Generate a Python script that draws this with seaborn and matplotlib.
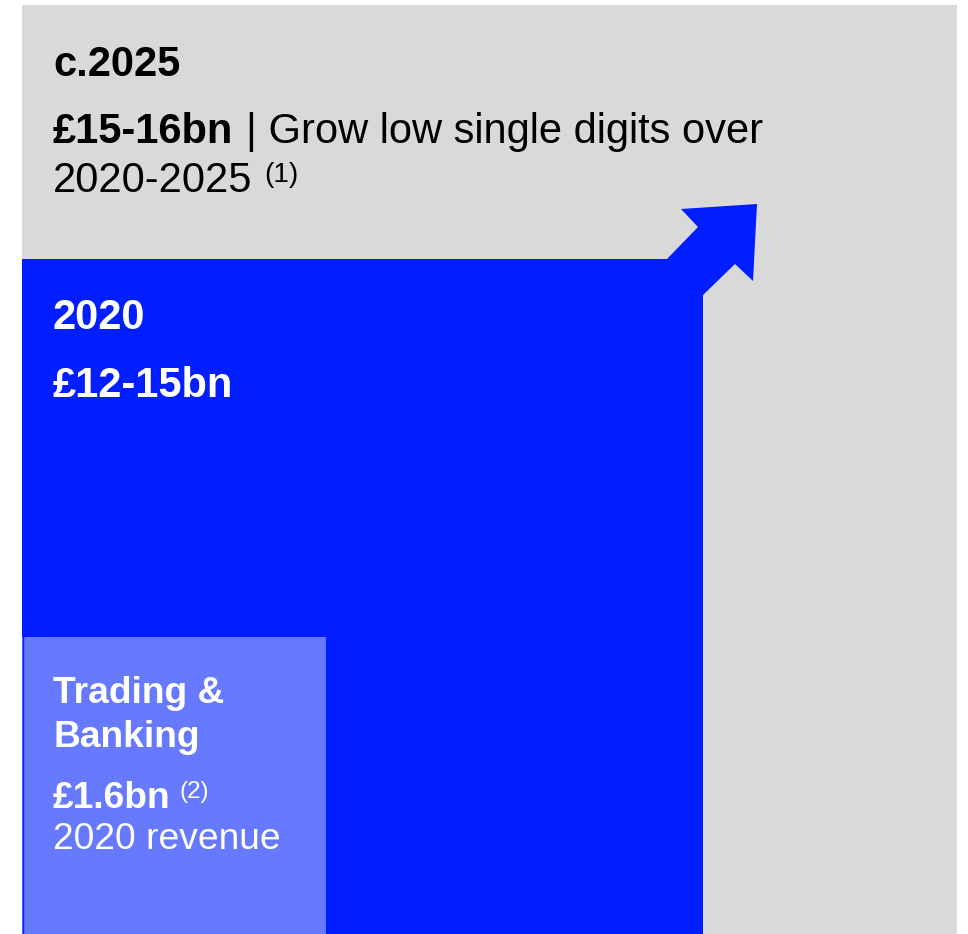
import matplotlib
matplotlib.use("Agg")
import matplotlib.pyplot as plt
import seaborn as sns
from matplotlib.patches import Rectangle, Polygon

# Labels and values for the three nested revenue pools
pool_years = ["c.2025", "2020"]
pool_values = ["£15-16bn", "£12-15bn"]
growth_note = ["| Grow low single digits over", "2020-2025"]
growth_note_ref = "(1)"
segment_name = ["Trading &", "Banking"]
segment_value = "£1.6bn"
segment_value_ref = "(2)"
segment_caption = "2020 revenue"

GREY = "#D9D9D9"
BLUE = "#001EFF"
LIGHT = "#6679FF"

sns.set_theme(style="white")
plt.rcParams["font.family"] = ["Liberation Sans", "DejaVu Sans"]

fig = plt.figure(figsize=(9.68, 9.34), dpi=100)
ax = fig.add_axes([0, 0, 1, 1])
ax.set_xlim(0, 968)
ax.set_ylim(934, 0)
ax.axis("off")

# nested boxes (pixel layout, y grows downward)
ax.add_patch(Rectangle((22, 5), 935, 929, facecolor=GREY, edgecolor="none"))
ax.add_patch(Rectangle((22, 259), 681, 675, facecolor=BLUE, edgecolor="none"))
ax.add_patch(Rectangle((22, 637), 304, 297, facecolor=LIGHT, edgecolor="none"))
ax.plot([22.5, 22.5], [637, 934], color=BLUE, linewidth=1)

# growth arrow leaving the 2020 box
arrow = [(667, 259), (698, 227), (681, 209), (757, 204), (753, 281),
         (735, 264), (703, 295), (703, 259)]
ax.add_patch(Polygon(arrow, closed=True, facecolor=BLUE, edgecolor="none"))

X0 = 53
fs_big = 30
fs_small = 26.7
renderer = fig.canvas.get_renderer()
inv = ax.transData.inverted()


def right_edge(t):
    bb = t.get_window_extent(renderer=renderer)
    return inv.transform((bb.x1, bb.y0))[0]


# c.2025 block
ax.text(X0, 76, pool_years[0], fontsize=fs_big, fontweight="bold", color="black", va="baseline")
t = ax.text(X0, 143, pool_values[0], fontsize=fs_big, fontweight="bold", color="black", va="baseline")
ax.text(right_edge(t) + 13, 143, growth_note[0], fontsize=fs_big, color="black", va="baseline")
t = ax.text(X0, 192, growth_note[1], fontsize=fs_big, color="black", va="baseline")
ax.text(right_edge(t) + 12, 182, growth_note_ref, fontsize=20, color="black", va="baseline")

# 2020 block
ax.text(X0, 329, pool_years[1], fontsize=fs_big, fontweight="bold", color="white", va="baseline")
ax.text(X0, 397, pool_values[1], fontsize=fs_big, fontweight="bold", color="white", va="baseline")

# Trading & Banking block
ax.text(X0, 703, segment_name[0], fontsize=fs_small, fontweight="bold", color="white", va="baseline")
ax.text(X0, 747, segment_name[1], fontsize=fs_small, fontweight="bold", color="white", va="baseline")
t = ax.text(X0, 808, segment_value, fontsize=fs_small, fontweight="bold", color="white", va="baseline")
ax.text(right_edge(t) + 9, 798, segment_value_ref, fontsize=17.5, color="white", va="baseline")
ax.text(X0, 849, segment_caption, fontsize=fs_small, color="white", va="baseline")

fig.savefig("out.png", dpi=100, facecolor="white")
